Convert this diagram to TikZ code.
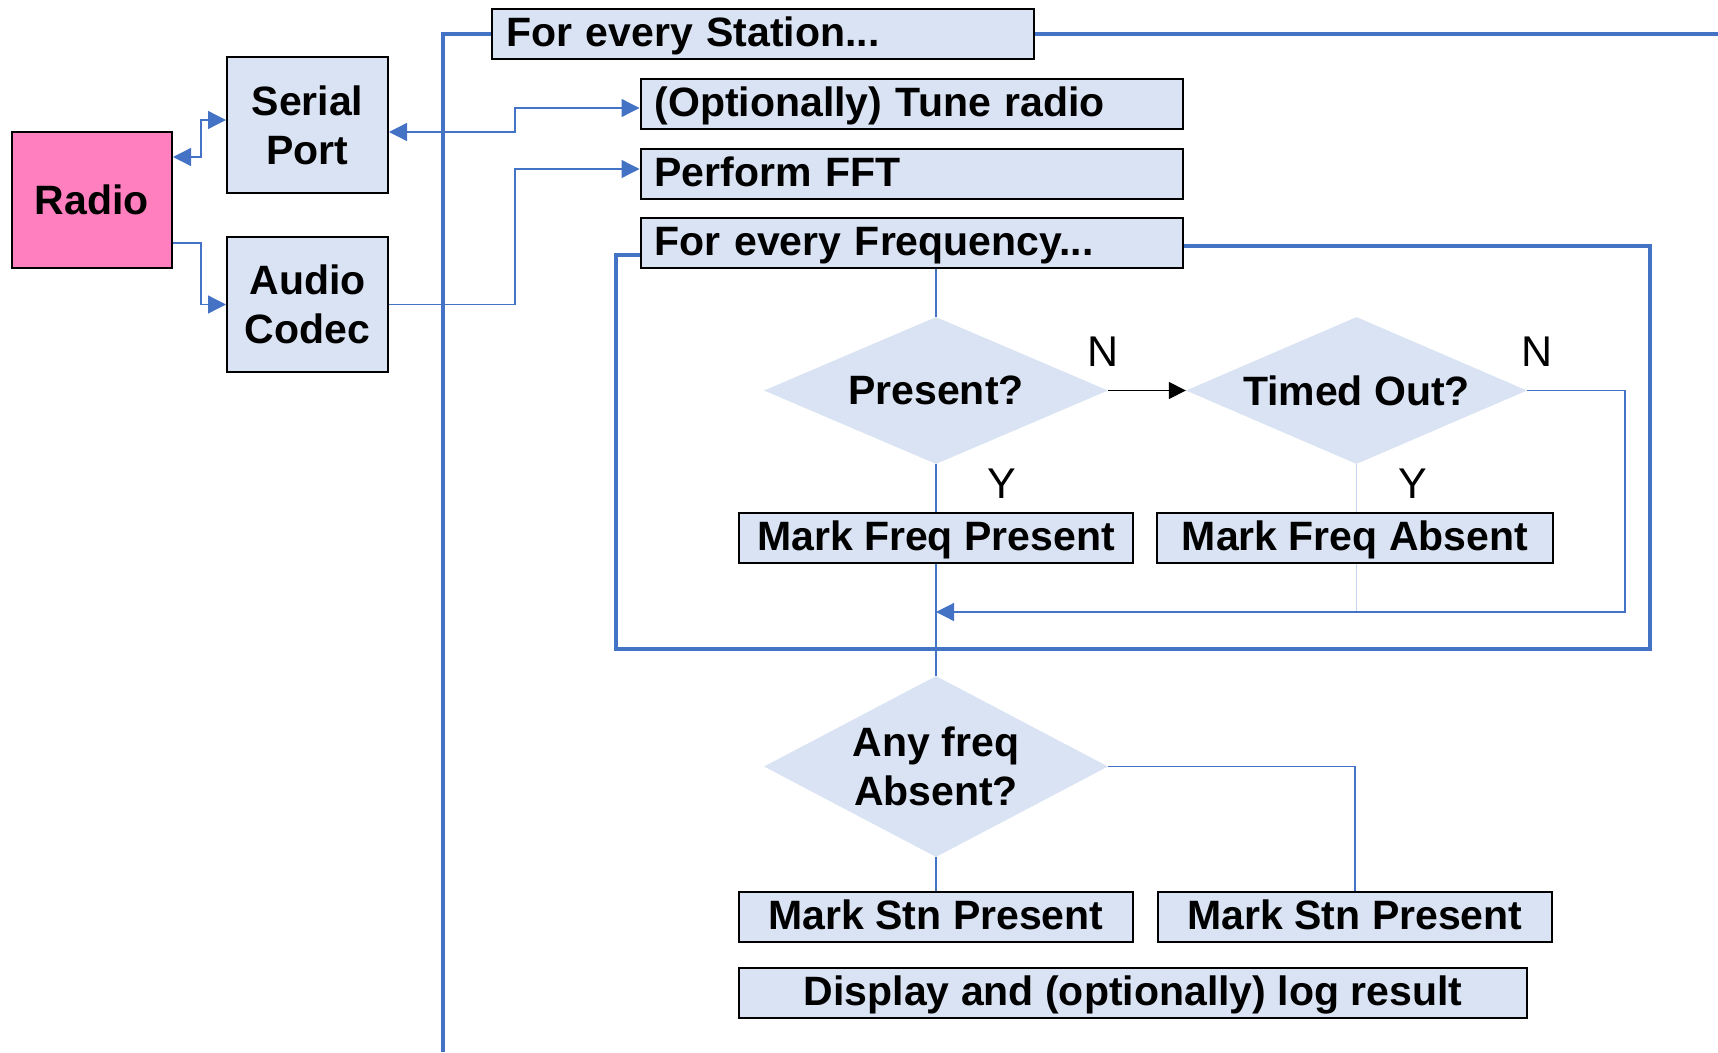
\documentclass[tikz,border=0pt]{standalone}
\usepackage{fontspec}
\setmainfont{Liberation Sans}
\usetikzlibrary{shapes.geometric,arrows.meta,calc}
\definecolor{boxfill}{HTML}{DAE3F3}
\definecolor{pinkfill}{HTML}{FF7FBF}
\definecolor{lineblue}{HTML}{4472C4}
\definecolor{paleblue}{HTML}{C3D3EE}
\begin{document}
\begin{tikzpicture}[x=1pt,y=-1pt,
  base/.style={font=\fontsize{41pt}{49pt}\selectfont\bfseries, inner sep=0pt},
  blockbox/.style={base, draw=black, line width=2pt, fill=boxfill, align=center},
  topbox/.style={base, draw=black, line width=2pt, fill=boxfill, text width=514pt, inner xsep=14pt, inner ysep=0pt, align=left, minimum height=50pt, text height=30pt, text depth=4.5pt},
  rowbox/.style={base, draw=black, line width=2pt, fill=boxfill, minimum height=50pt, text height=30pt, text depth=4.5pt},
  decision/.style={base, diamond, fill=boxfill, align=center},
  yn/.style={font=\fontsize{43pt}{43pt}\selectfont, inner sep=0pt},
  loopline/.style={draw=lineblue, line width=3.3pt},
  flow/.style={draw=lineblue, line width=1.3pt},
  faint/.style={draw=paleblue, line width=1.3pt},
  bluetip/.style={-{Triangle[length=18pt,width=18pt]}},
  bluetips/.style={{Triangle[length=18pt,width=18pt]}-{Triangle[length=18pt,width=18pt]}},
]
\path[use as bounding box] (0,0) rectangle (1718,1052);

% blocks
\node[blockbox, fill=pinkfill, minimum width=160.5pt, minimum height=136pt] (radio) at (91.75,200) {Radio};
\node[blockbox, minimum width=161pt, minimum height=136pt] (serial) at (307.5,125) {Serial\\Port};
\node[blockbox, minimum width=161pt, minimum height=135pt] (codec) at (307.5,304.5) {Audio\\Codec};

\node[topbox] (station) at (763,34) {For every Station...};
\node[topbox] (tune) at (911.5,104) {(Optionally) Tune radio};
\node[topbox] (fft) at (911.5,173.5) {Perform FFT};
\node[topbox] (freq) at (911.5,243) {For every Frequency...};

\node[decision, minimum width=344pt, minimum height=147pt, aspect=2.3] (present) at (936,390.5) {Present?};
\node[decision, minimum width=341pt, minimum height=147pt, aspect=2.3] (timed) at (1356.5,390.5) {Timed Out?};

\node[rowbox, minimum width=394pt] (mfp) at (936,538) {Mark Freq Present};
\node[rowbox, minimum width=395.5pt] (mfa) at (1355,538) {Mark Freq Absent};

\node[decision, minimum width=344pt, minimum height=181pt, aspect=1.9] (anyfreq) at (936,766.5) {Any freq\\Absent?};

\node[rowbox, minimum width=394pt] (msp1) at (936,917) {Mark Stn Present};
\node[rowbox, minimum width=394.5pt] (msp2) at (1355,917) {Mark Stn Present};
\node[rowbox, minimum width=788.5pt] (display) at (1133,993) {Display and (optionally) log result};

% labels
\node[yn] (n1) at (1103,352) {N};
\node[yn] (n2) at (1537.5,352) {N};
\node[yn] (y1) at (1002,483.5) {Y};
\node[yn] (y2) at (1413,483.5) {Y};

% coordinates for free ends
\coordinate (stnbottom) at (443,1052);
\coordinate (stnright) at (1718,34);
\coordinate (frR) at (1650,649);
\coordinate (frL) at (616,649);
\coordinate (retR) at (1625,612);
\coordinate (retL) at (936,612);

% loops
\draw[loopline] (station.west) -| (stnbottom);
\draw[loopline] (station.east) -- (stnright);
\draw[loopline] ([yshift=-3pt]freq.east) -| (frR) -- (frL) |- ([yshift=-12pt]freq.west);

% hardware connectors
\draw[flow, bluetips] ([yshift=43pt]radio.east) -- ++(28,0) |- ([yshift=5pt]serial.west);
\draw[flow, bluetip] ([yshift=-43pt]radio.east) -- ++(28,0) |- (codec.west);
\draw[flow, bluetips] ([yshift=-7pt]serial.east) -- ++(126,0) |- ([yshift=-4pt]tune.west);
\draw[flow, bluetip] (codec.east) -- ++(126,0) |- ([yshift=4.5pt]fft.west);

% flow
\draw[flow] (present.north |- freq.south) -- (present.north);
\draw[flow] (present.south) -- (mfp.north);
\draw[black, line width=1.5pt, -{Triangle[length=17pt,width=17pt]}] (present.east) -- (timed.west);
\draw[faint] (timed.south) -- (timed.south |- mfa.north);
\draw[faint] (timed.south |- mfa.south) -- (timed.south |- retL);
\draw[flow, bluetip] (timed.east) -| (retR) -- (retL);
\draw[flow] (mfp.south) -- (anyfreq.north);
\draw[flow] (anyfreq.east) -| (msp2.north);
\draw[flow] (anyfreq.south) -- (msp1.north);
\end{tikzpicture}
\end{document}
